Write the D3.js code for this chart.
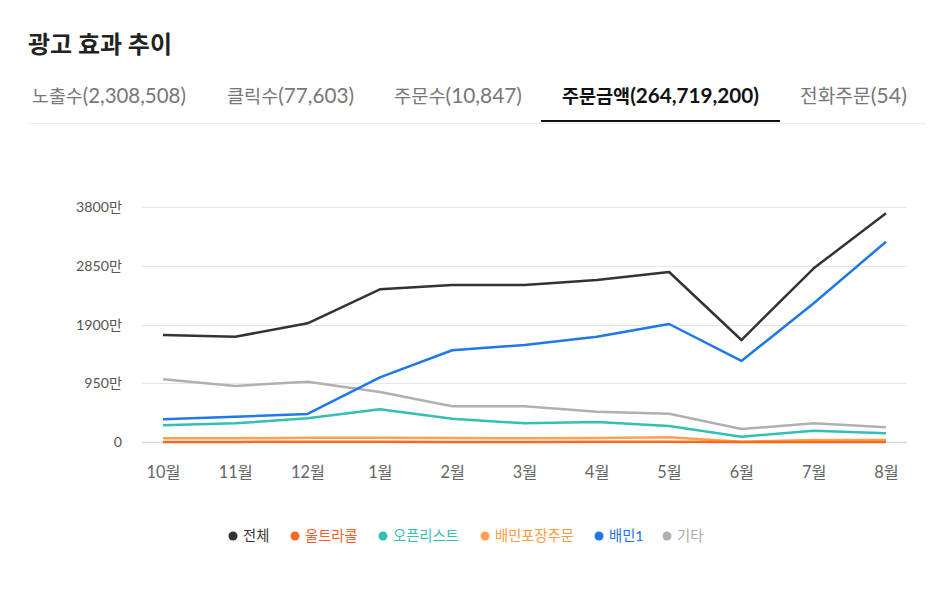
<!DOCTYPE html>
<html><head><meta charset="utf-8">
<script src="https://cdn.jsdelivr.net/npm/d3@7"></script>
<style>
html,body{margin:0;padding:0;background:#fff;}
text{font-family:Lato,'Noto Sans CJK KR',sans-serif;}
</style></head>
<body><svg id="c" width="952" height="592"></svg>
<script>
const title = "광고 효과 추이";
const tabs = ["노출수(2,308,508)","클릭수(77,603)","주문수(10,847)","주문금액(264,719,200)","전화주문(54)"];
const activeTab = 3;
const months = ["10월","11월","12월","1월","2월","3월","4월","5월","6월","7월","8월"];
const yTicks = [0, 950, 1900, 2850, 3800];
const seriesNames = ["전체","울트라콜","오픈리스트","배민포장주문","배민1","기타"];
const seriesColors = ["#333333","#fa6a1e","#34bfb3","#ffa052","#1f78e8","#b0b0b0"];
const legendTextColors = ["#333333","#f5602a","#34bfb3","#ff9a45","#1f6fe8","#aaaaaa"];
// values in 만원
const total      = [1730,1703,1919,2469,2539,2539,2620,2749,1649,2809,3698];
const ultracall  = [2,2,3,3,2,2,3,3,1,2,2];
const openlist   = [270,302,383,529,377,302,323,259,86,183,141];
const pickup     = [60,60,70,70,65,60,65,76,5,32,32];
const baemin1    = [367,409,453,1046,1483,1568,1703,1908,1310,2243,3239];
const etc        = [1014,906,975,809,577,577,490,458,210,302,238];
const seriesData = [total, ultracall, openlist, pickup, baemin1, etc];

const svg = d3.select("#c");

// scale a text element's font sizes so it spans the target width
function fit(textSel, target){
  const node = textSel.node();
  const w = node.getComputedTextLength();
  if(!w) return;
  const f = target / w;
  const sized = [node, ...node.querySelectorAll("tspan")];
  sized.forEach(n=>{
    const fs = parseFloat(n.getAttribute("font-size"));
    if(fs) n.setAttribute("font-size", (fs*f).toFixed(2));
  });
}

const tt = svg.append("text").attr("x",28).attr("y",53).attr("font-size",23).attr("font-weight",700)
  .attr("fill","#222").text(title);
fit(tt, 144);

const tabX = [32,227,394,562,800];
const tabEnd = [186,354,522,759,907];
svg.append("line").attr("x1",28).attr("x2",926).attr("y1",123.5).attr("y2",123.5)
  .attr("stroke","#ececec").attr("stroke-width",1);
tabs.forEach((t,i)=>{
  const k = t.indexOf("(");
  const tx = svg.append("text").attr("x",tabX[i]).attr("y",103)
    .attr("font-weight", i===activeTab?700:400)
    .attr("fill", i===activeTab?"#111":"#777");
  tx.append("tspan").attr("font-family","'Noto Sans CJK KR'").attr("font-size",17.5).text(t.slice(0,k));
  tx.append("tspan").attr("font-family","Lato").attr("font-size",19.5).text(t.slice(k));
  fit(tx, tabEnd[i]-tabX[i]);
});
svg.append("rect").attr("x",541).attr("y",120).attr("width",239).attr("height",2).attr("fill","#111");

const x = d3.scalePoint().domain(months).range([163,886]);
const y = d3.scaleLinear().domain([0,3800]).range([442,207]);

const grid = svg.append("g");
grid.selectAll("line").data(yTicks).join("line")
  .attr("x1",142).attr("x2",907)
  .attr("y1",d=>Math.round(y(d))+0.5).attr("y2",d=>Math.round(y(d))+0.5)
  .attr("stroke",d=>d===0?"#d8d8d8":"#e6e6e6").attr("stroke-width",d=>d===0?1.5:1);

const yAxis = d3.axisLeft(y).tickValues(yTicks).tickSize(0).tickPadding(0)
  .tickFormat(d=> d===0 ? "0" : d+"만");
const ga = svg.append("g").attr("transform","translate(122,0)").call(yAxis);
ga.select(".domain").remove();
ga.selectAll("text").attr("font-size",14.5).attr("fill","#555").attr("font-family",null);
{ const t = ga.selectAll("text").filter(d=>d===3800); const w = t.node().getComputedTextLength();
  const fs = (14.5*46/w).toFixed(2); ga.selectAll("text").attr("font-size",fs); }

const xAxis = d3.axisBottom(x).tickSize(0).tickPadding(0);
const gx = svg.append("g").attr("transform","translate(0,466)").call(xAxis);
gx.select(".domain").remove();
gx.selectAll("text").attr("font-size",16.5).attr("fill","#666").attr("font-family",null).attr("dy","0.71em");
{ const t = gx.selectAll("text").filter(d=>d==="10월"); const w = t.node().getComputedTextLength();
  const fs = (16.5*34/w).toFixed(2); gx.selectAll("text").attr("font-size",fs); }

const line = d3.line().x((d,i)=>x(months[i])).y(d=>y(d));
const drawOrder = [5,2,4,3,1,0];
drawOrder.forEach(k=>{
  svg.append("path").datum(seriesData[k]).attr("d",line)
    .attr("fill","none").attr("stroke",seriesColors[k]).attr("stroke-width",2.5)
    .attr("stroke-linejoin","round");
});

const legX = [233,295,383,485,599,667];
const legT = [];
seriesNames.forEach((n,i)=>{
  svg.append("circle").attr("cx",legX[i]).attr("cy",536).attr("r",4.5).attr("fill",seriesColors[i]);
  legT.push(svg.append("text").attr("x",legX[i]+10).attr("y",541).attr("font-size",13.3)
    .attr("fill",legendTextColors[i]).text(n));
});
{ const w = legT[3].node().getComputedTextLength(); const fs=(13.3*79/w).toFixed(2);
  legT.forEach(t=>t.attr("font-size",fs)); }
</script></body></html>
